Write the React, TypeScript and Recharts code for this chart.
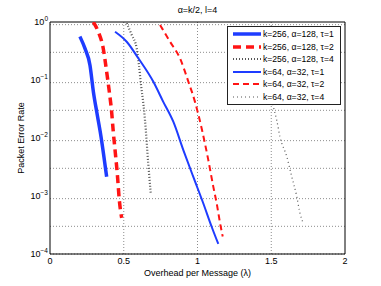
import React from 'react';
import { LineChart, Line, XAxis, YAxis, CartesianGrid, ReferenceLine } from 'recharts';

const FONT = '"Liberation Sans", Arial, Helvetica, sans-serif';

const titleText = 'α=k/2, l=4';
const xLabelText = 'Overhead per Message (λ)';
const yLabelText = 'Packet Error Rate';

const xTicks = [0, 0.5, 1, 1.5, 2];
const yTicks = [0.0001, 0.001, 0.01, 0.1, 1];
const yExponents = ['−4', '−3', '−2', '−1', '0'];
const yMinorGrid = [
  0.0002, 0.0003, 0.0004, 0.0005, 0.0006, 0.0007, 0.0008, 0.0009,
  0.002, 0.003, 0.004, 0.005, 0.006, 0.007, 0.008, 0.009,
  0.02, 0.03, 0.04, 0.05, 0.06, 0.07, 0.08, 0.09,
  0.2, 0.3, 0.4, 0.5, 0.6, 0.7, 0.8, 0.9,
];
const xGrid = [0.5, 1, 1.5];

const labels = [
  'k=256, α=128, τ=1',
  'k=256, α=128, τ=2',
  'k=256, α=128, τ=4',
  'k=64, α=32, τ=1',
  'k=64, α=32, τ=2',
  'k=64, α=32, τ=4',
];

const k256t1X = [0.203, 0.237, 0.271, 0.294, 0.317, 0.344, 0.384];
const k256t1Y = [0.56, 0.35, 0.18, 0.063, 0.028, 0.0113, 0.00215];

const k256t2X = [0.294, 0.327, 0.361, 0.384, 0.402, 0.418, 0.429, 0.441, 0.456, 0.47, 0.486];
const k256t2Y = [1.0, 0.68, 0.35, 0.139, 0.063, 0.028, 0.0128, 0.0062, 0.00246, 0.00085, 0.00042];

const k256t4X = [0.52, 0.554, 0.588, 0.603, 0.617, 0.634, 0.644, 0.666, 0.683];
const k256t4Y = [0.95, 0.6, 0.35, 0.18, 0.082, 0.037, 0.0204, 0.00366, 0.00111];

const k64t1X = [0.441, 0.52, 0.599, 0.7, 0.768, 0.836, 0.904, 0.971, 1.039, 1.096, 1.141];
const k64t1Y = [0.68, 0.457, 0.237, 0.094, 0.042, 0.0191, 0.0062, 0.00215, 0.00075, 0.000295, 0.000149];

const k64t2X = [0.746, 0.814, 0.881, 0.938, 0.983, 1.028, 1.073, 1.107, 1.13, 1.153, 1.171];
const k64t2Y = [0.89, 0.457, 0.237, 0.094, 0.042, 0.0147, 0.0042, 0.00145, 0.00075, 0.00034, 0.0002];

const k64t4X = [1.36, 1.43, 1.48, 1.514, 1.537, 1.559, 1.605, 1.639, 1.673, 1.695, 1.717];
const k64t4Y = [0.8, 0.3, 0.1, 0.035, 0.0204, 0.0105, 0.0048, 0.00215, 0.00098, 0.0005, 0.00034];

const zip = (xs: number[], ys: number[]) => xs.map((x, i) => ({ x, y: ys[i] }));

const BLUE = '#1e3cff';
const RED = '#ff1414';
const GRAY = '#555555';

const seriesList = [
  { name: labels[0], data: zip(k256t1X, k256t1Y), color: BLUE, width: 3.5, dash: undefined as string | undefined },
  { name: labels[1], data: zip(k256t2X, k256t2Y), color: RED, width: 3.5, dash: '8 5' },
  { name: labels[2], data: zip(k256t4X, k256t4Y), color: GRAY, width: 2.2, dash: '1 2' },
  { name: labels[3], data: zip(k64t1X, k64t1Y), color: BLUE, width: 2, dash: undefined },
  { name: labels[4], data: zip(k64t2X, k64t2Y), color: RED, width: 2, dash: '6 4' },
  { name: labels[5], data: zip(k64t4X, k64t4Y), color: GRAY, width: 1.2, dash: '1 3' },
];

const YTick = (props: any) => {
  const { x, y, payload } = props;
  const idx = yTicks.findIndex((t) => Math.abs(t - payload.value) < payload.value * 1e-6);
  const exp = idx >= 0 ? yExponents[idx] : '';
  return (
    <text x={x + 6} y={y + 3} textAnchor="end" fontSize={9} fontFamily={FONT} fill="#000">
      10
      <tspan dy={-4} fontSize={6.5}>{exp}</tspan>
    </text>
  );
};

const fmtX = (v: number) => String(v);

export default function App() {
  return (
    <div style={{ position: 'absolute', left: 0, top: 0, width: 381, height: 286, background: '#fff' }}>
      <LineChart width={381} height={286} margin={{ top: 22, right: 36, bottom: 0, left: 0 }}>
        <CartesianGrid
          horizontalValues={[...yTicks, ...yMinorGrid]}
          verticalValues={xGrid}
          stroke="#8c8c8c"
          strokeDasharray="1 2"
          strokeWidth={1}
        />
        <XAxis
          type="number"
          dataKey="x"
          domain={[0, 2]}
          ticks={xTicks}
          tickFormatter={fmtX}
          allowDataOverflow
          height={32}
          tickLine={false}
          tickSize={4}
          tickMargin={0}
          axisLine={{ stroke: '#000', strokeWidth: 1 }}
          tick={{ fontSize: 9, fontFamily: FONT, fill: '#000' }}
        />
        <YAxis
          type="number"
          dataKey="y"
          scale="log"
          domain={[0.0001, 1]}
          ticks={yTicks}
          allowDataOverflow
          width={50}
          tickLine={false}
          axisLine={{ stroke: '#000', strokeWidth: 1 }}
          tick={<YTick />}
        />
        <ReferenceLine y={1} stroke="#000" strokeWidth={1} />
        <ReferenceLine x={2} stroke="#000" strokeWidth={1} />
        {seriesList.map((s) => (
          <Line
            key={s.name}
            data={s.data}
            dataKey="y"
            name={s.name}
            type="monotone"
            stroke={s.color}
            strokeWidth={s.width}
            strokeDasharray={s.dash}
            dot={false}
            activeDot={false}
            isAnimationActive={false}
          />
        ))}
      </LineChart>

      <div
        style={{
          position: 'absolute', left: 0, width: 395, top: 4, textAlign: 'center',
          fontFamily: FONT, fontSize: 9, color: '#000', lineHeight: '12px',
        }}
      >
        {titleText}
      </div>
      <div
        style={{
          position: 'absolute', left: 0, width: 395, top: 267, textAlign: 'center',
          fontFamily: FONT, fontSize: 9, color: '#000', lineHeight: '12px',
        }}
      >
        {xLabelText}
      </div>
      <div
        style={{
          position: 'absolute', left: 20.5 - 60, top: 138 - 6, width: 120, height: 12, textAlign: 'center',
          fontFamily: FONT, fontSize: 9, color: '#000', lineHeight: '12px', transform: 'rotate(-90deg)',
        }}
      >
        {yLabelText}
      </div>

      <div
        style={{
          position: 'absolute', left: 227, top: 26, width: 112, height: 76, background: '#fff',
          border: '1px solid #222', boxSizing: 'content-box', paddingTop: 1,
        }}
      >
        {seriesList.map((s) => (
          <div key={s.name} style={{ height: 12.5, display: 'flex', alignItems: 'center' }}>
            <svg width={34} height={8} style={{ flex: 'none' }}>
              <line x1={5} y1={4} x2={33} y2={4} stroke={s.color} strokeWidth={s.width} strokeDasharray={s.dash} />
            </svg>
            <span style={{ fontFamily: FONT, fontSize: 8.6, color: '#000', marginLeft: 1, whiteSpace: 'nowrap', lineHeight: '12px' }}>
              {s.name}
            </span>
          </div>
        ))}
      </div>
    </div>
  );
}
